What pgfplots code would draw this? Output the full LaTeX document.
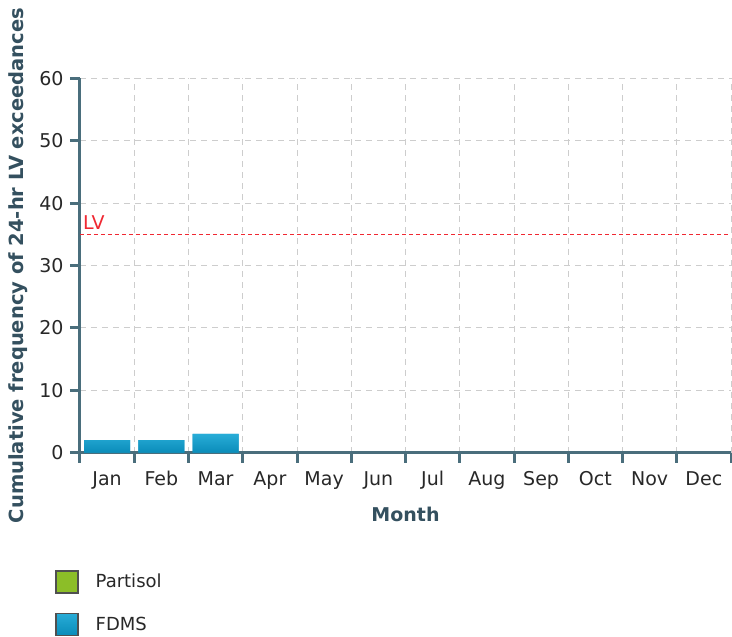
\documentclass[border=0pt]{standalone}
\usepackage{pgfplots}
\pgfplotsset{compat=1.18}
\usepackage{fontspec}
\setmainfont{DejaVu Sans}
\definecolor{axcol}{RGB}{74,110,124}
\definecolor{labcol}{RGB}{52,80,95}
\definecolor{tickcol}{RGB}{40,40,40}
\definecolor{gridcol}{RGB}{205,205,205}
\definecolor{lvred}{RGB}{240,40,50}
\definecolor{fdmstop}{RGB}{40,172,215}
\definecolor{fdmsbot}{RGB}{10,140,185}
\definecolor{fdms}{RGB}{20,155,200}
\definecolor{partisol}{RGB}{140,190,40}
\definecolor{legborder}{RGB}{80,80,80}
\begin{document}
\begin{tikzpicture}[x=1pt,y=1pt]
\fill[white] (0,0) rectangle (732,637);
\useasboundingbox (0,0) rectangle (732,637);
\begin{axis}[
  at={(80pt,184.3pt)}, anchor=south west,
  scale only axis, width=651pt, height=374.4pt,
  xmin=-0.5, xmax=11.5, ymin=0, ymax=60,
  axis x line*=bottom, axis y line*=left,
  x axis line style={-, draw=axcol, line width=3pt},
  y axis line style={-, draw=axcol, line width=3pt},
  xtick={-0.5,0.5,...,11.5},
  x tick label as interval,
  xticklabels={Jan,Feb,Mar,Apr,May,Jun,Jul,Aug,Sep,Oct,Nov,Dec},
  ytick={0,10,...,60},
  tick align=outside, major tick length=10pt,
  every tick/.style={draw=axcol, line width=3pt},
  grid=major,
  major grid style={draw=gridcol, dash pattern=on 6pt off 5pt, line width=1pt},
  /pgf/number format/assume math mode=true,
  tick label style={font=\fontsize{19}{22}\selectfont, text=tickcol},
  xticklabel style={yshift=-5pt},
  yticklabel style={xshift=-3pt},
  xlabel={Month},
  ylabel={Cumulative frequency of 24-hr LV exceedances},
  xlabel style={font=\fontsize{19}{22}\selectfont\bfseries, text=labcol, at={(axis description cs:0.5,-0.166)}, anchor=center},
  ylabel style={font=\fontsize{19.5}{22}\selectfont\bfseries, text=labcol, at={(axis description cs:-0.0952,0.5)}, anchor=center, rotate=0},
  legend style={at={(axis description cs:-0.0384,-0.313)}, anchor=north west, draw=none, fill=none,
    inner xsep=0pt, inner ysep=0pt, row sep=19pt, column sep=17pt,
    font=\fontsize{18}{21}\selectfont, text=tickcol,
    nodes={inner sep=0pt}},
  legend cell align=left,
  legend image code/.code={\draw[#1, draw=legborder, line width=1.5pt] (0pt,-11pt) rectangle (22pt,11pt);},
  clip=false,
]
\addlegendimage{fill=partisol}
\addlegendentry{Partisol}
\addplot[ybar, bar width=46pt, bar shift=0pt, fill=fdms, draw=none, top color=fdmstop, bottom color=fdmsbot]
  coordinates {(0,2) (1,2) (2,3)};
\addlegendentry{FDMS}
\addplot[forget plot, lvred, line width=1.5pt, dash pattern=on 4pt off 3pt, mark=none]
  coordinates {(-0.5,35) (11.5,35)};
\node[anchor=south west, text=lvred, font=\fontsize{19}{21}\selectfont, inner sep=1pt] at (axis cs:-0.5,35.6) {\hspace{2pt}LV};
\end{axis}
\end{tikzpicture}
\end{document}
